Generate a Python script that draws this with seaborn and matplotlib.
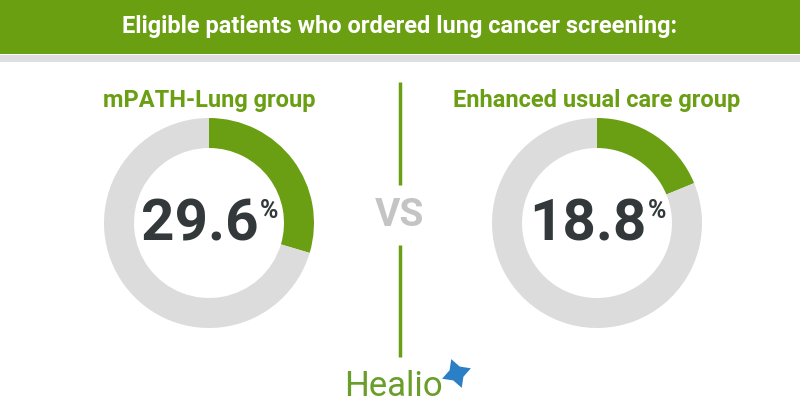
import matplotlib
matplotlib.use("Agg")
import matplotlib.pyplot as plt
import seaborn as sns

# ---- data ----
title = "Eligible patients who ordered lung cancer screening:"
groups = ["mPATH-Lung group", "Enhanced usual care group"]
values = [29.6, 18.8]
vs_label = "VS"
brand = "Healio"

GREEN = "#6a9e13"
RING_GRAY = "#dcdcdc"
DARK = "#33393b"
VS_GRAY = "#c4c4c4"

sns.set_theme(style="white")
plt.rcParams["font.family"] = ["Roboto", "DejaVu Sans"]

fig = plt.figure(figsize=(8, 4.2), dpi=100)
ax = fig.add_axes([0, 0, 1, 1])
H = 420

def Y(y):
    return H - y

centers_x = [209, 597]
cy = 223
R = 105
for cx, v, g in zip(centers_x, values, groups):
    ax.pie([v, 100 - v], colors=[GREEN, RING_GRAY], startangle=90, counterclock=False,
           center=(cx, Y(cy)), radius=R, wedgeprops=dict(width=30, linewidth=0))
    ax.text(cx, Y(100), g, ha="center", va="center", fontsize=17, fontweight="bold", color=GREEN)
    num = f"{v:.1f}"
    ax.text(cx - 9, Y(cy + 2), num, ha="center", va="center", fontsize=42, fontweight="bold", color=DARK)
    ax.text(cx + 60, Y(211), "%", ha="center", va="center", fontsize=18, fontweight="bold", color=DARK)

ax.set_xlim(0, 800)
ax.set_ylim(0, H)
ax.set_aspect("equal")
ax.axis("off")

# header
ax.add_patch(plt.Rectangle((0, Y(54)), 800, 54, color="#6b9f12", lw=0, zorder=0))
ax.add_patch(plt.Rectangle((0, Y(62)), 800, 7, color="#dedede", lw=0, zorder=0))
ax.text(400, Y(27), title, ha="center", va="center", fontsize=17, fontweight="bold",
        color="white", family=["Liberation Sans Narrow", "Roboto", "DejaVu Sans"])

# divider + VS
ax.plot([400, 400], [Y(82), Y(185)], color=GREEN, lw=2.5, solid_capstyle="butt")
ax.plot([400, 400], [Y(245), Y(357)], color=GREEN, lw=2.5, solid_capstyle="butt")
ax.text(400, Y(215), vs_label, ha="center", va="center", fontsize=28, fontweight="bold", color=VS_GRAY)

# logo
ax.text(393, Y(386), brand, ha="center", va="center", fontsize=25, color="#6a9e2a")
ax.plot([456], [Y(373)], marker=(4, 1, 20), markersize=22, color="#2b7fc4", markeredgewidth=0)

fig.savefig("out.png", dpi=100, facecolor="white")
